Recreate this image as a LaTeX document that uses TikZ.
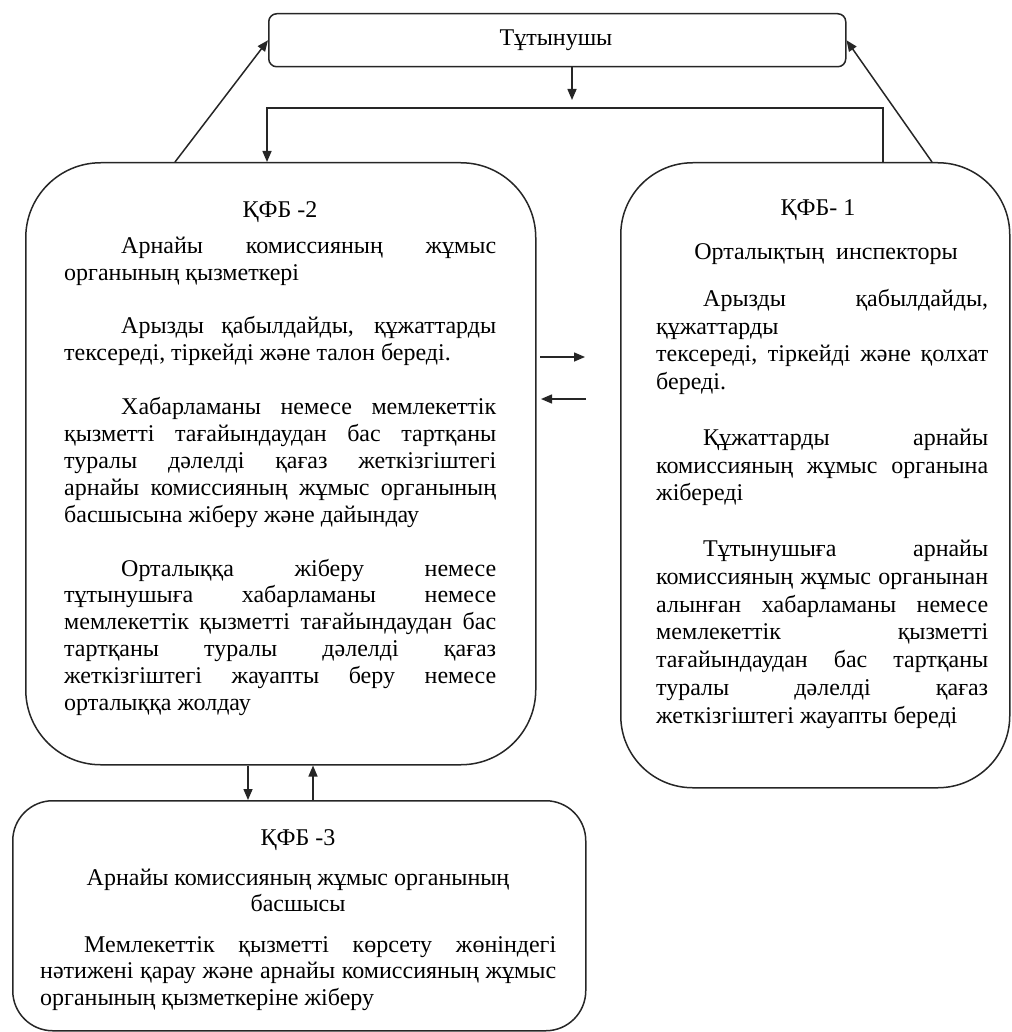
\documentclass[tikz,border=0pt]{standalone}
\usepackage{fontspec}
\setmainfont{Liberation Serif}
\usetikzlibrary{arrows.meta}
\newcommand\firstln{\rule{0pt}{21pt}}
\begin{document}
\begin{tikzpicture}[x=1pt,y=-1pt,
  lnc/.style={draw=black!85, line width=1.5pt},
  rbox/.style={lnc, rounded corners=#1, anchor=north west, inner sep=0pt},
  arr/.style={lnc, -{Triangle[length=11pt,width=9pt]}},
  tf/.style={font=\fontsize{24}{26.6}\selectfont},
  ptxt/.style={anchor=north west, inner sep=0pt, text width=#1, align=justify},
  ttl/.style={tf, anchor=base, inner sep=0pt}
]
\useasboundingbox (0,0) rectangle (1011,1032);

% boxes
\node[rbox=8pt, minimum width=577pt, minimum height=53pt] (top) at (268,13) {};
\node[ttl] (toptxt) at (556,46) {Тұтынушы};
\node[rbox=75pt, minimum width=510pt, minimum height=602pt] (k2) at (25,162) {};
\node[rbox=72pt, minimum width=389pt, minimum height=625pt] (k1) at (620,162) {};
\node[rbox=40pt, minimum width=573pt, minimum height=230pt] (k3) at (12,800) {};

% coordinates for connectors
\coordinate (a1) at (572,100);
\coordinate (h1) at (883,108);
\coordinate (h2) at (267,108);
\coordinate (s2) at (175,0);
\coordinate (s1) at (932,0);
\coordinate (ra1) at (540,357);
\coordinate (ra2) at (585,357);
\coordinate (la1) at (586,399);
\coordinate (la2) at (541,399);
\coordinate (d1) at (248,0);
\coordinate (u1) at (313,0);

% connectors
\draw[arr] (top.south -| a1) -- (a1);
\draw[arr] (k1.north -| h1) -- (h1) -- (h2) -- (k2.north -| h2);
\draw[arr] (k2.north -| s2) -- (top.west);
\draw[arr] (k1.north -| s1) -- (top.east);
\draw[arr] (ra1) -- (ra2);
\draw[arr] (la1) -- (la2);
\draw[arr] (k2.south -| d1) -- (k3.north -| d1);
\draw[arr] (k3.north -| u1) -- (k2.south -| u1);

% KFB-2 text
\node[ttl] (k2t) at (280,218) {ҚФБ -2};
\node[ptxt=432pt, font=\fontsize{24}{26.9}\selectfont] (k2b) at (64,232) {\noindent\firstln\hspace*{57pt}Арнайы комиссияның жұмыс\linebreak органының қызметкері\par
\vspace{26.9pt}\noindent\hspace*{57pt}Арызды қабылдайды, құжаттарды\linebreak тексереді, тіркейді және талон береді.\par
\vspace{26.9pt}\noindent\hspace*{57pt}Хабарламаны немесе мемлекеттік\linebreak қызметті тағайындаудан бас тартқаны\linebreak туралы дәлелді қағаз жеткізгіштегі\linebreak арнайы комиссияның жұмыс органының\linebreak басшысына жіберу және дайындау\par
\vspace{26.9pt}\noindent\hspace*{57pt}Орталыққа жіберу немесе\linebreak тұтынушыға хабарламаны немесе\linebreak мемлекеттік қызметті тағайындаудан бас\linebreak тартқаны туралы дәлелді қағаз\linebreak жеткізгіштегі жауапты беру немесе\linebreak орталыққа жолдау};

% KFB-1 text
\node[ttl] (k1t) at (818,215) {ҚФБ- 1};
\node[ttl] (k1s) at (826,259) {Орталықтың\ \ инспекторы};
\node[ptxt=332pt, font=\fontsize{24}{27.8}\selectfont] (k1b) at (656,285) {\noindent\firstln\hspace*{47pt}Арызды қабылдайды,\linebreak құжаттарды\newline тексереді, тіркейді және қолхат\linebreak береді.\par
\vspace{27.8pt}\noindent\hspace*{47pt}Құжаттарды арнайы\linebreak комиссияның жұмыс органына\linebreak жібереді\par
\vspace{27.8pt}\noindent\hspace*{47pt}Тұтынушыға арнайы\linebreak комиссияның жұмыс органынан\linebreak алынған хабарламаны немесе\linebreak мемлекеттік қызметті\linebreak тағайындаудан бас тартқаны\linebreak туралы дәлелді қағаз\linebreak жеткізгіштегі жауапты береді};

% KFB-3 text
\node[ttl] (k3t) at (298,845) {ҚФБ -3};
\node[ttl] (k3s1) at (298,885) {Арнайы комиссияның жұмыс органының};
\node[ttl] (k3s2) at (298,911) {басшысы};
\node[ptxt=516pt, font=\fontsize{24}{26.6}\selectfont] (k3b) at (40,931) {\noindent\firstln\hspace*{44pt}Мемлекеттік қызметті көрсету жөніндегі\linebreak нәтижені қарау және арнайы комиссияның жұмыс\linebreak органының қызметкеріне жіберу};
\end{tikzpicture}
\end{document}
